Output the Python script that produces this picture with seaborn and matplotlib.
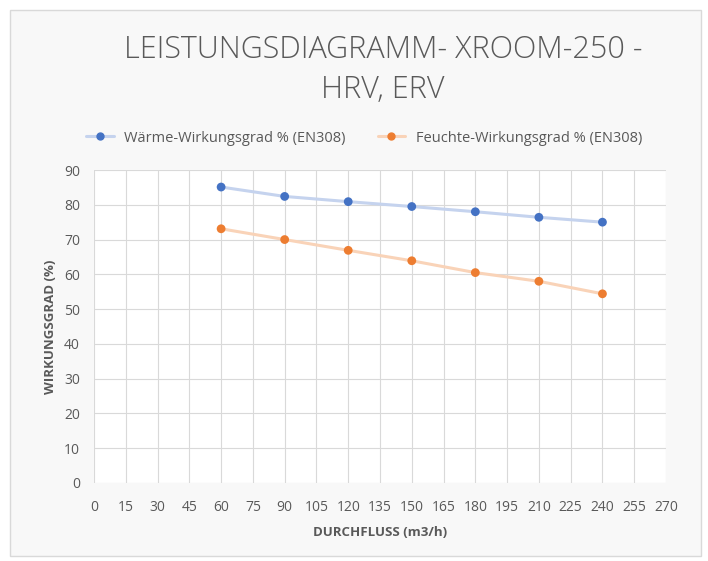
import seaborn as sns
import matplotlib.pyplot as plt
from matplotlib.lines import Line2D
from matplotlib.patches import Rectangle
import pandas as pd

# Daten
durchfluss = [60, 90, 120, 150, 180, 210, 240]
waerme = [85.1, 82.4, 80.9, 79.5, 78.0, 76.4, 75.0]
feuchte = [73.1, 70.0, 66.9, 63.9, 60.5, 58.0, 54.4]
namen = ["Wärme-Wirkungsgrad % (EN308)", "Feuchte-Wirkungsgrad % (EN308)"]
x_ticks = list(range(0, 271, 15))
y_ticks = list(range(0, 91, 10))

df = pd.concat([
    pd.DataFrame({"x": durchfluss, "y": waerme, "serie": namen[0]}),
    pd.DataFrame({"x": durchfluss, "y": feuchte, "serie": namen[1]}),
])

sns.set_style("white")
plt.rcParams['font.family'] = ['Open Sans', 'DejaVu Sans']

grau = "#595959"
blau, blau_hell = "#4472c4", "#c5d3ee"
orange, orange_hell = "#ed7d31", "#f9d3b8"

fig = plt.figure(figsize=(7.08, 5.61), dpi=100)
fig.patch.set_facecolor("white")
# Rahmen des Excel-Diagramms
fig.patches.append(Rectangle((10 / 708, 5 / 561), 691 / 708, 546 / 561,
                             transform=fig.transFigure, facecolor="#f8f8f8",
                             edgecolor="#d9d9d9", linewidth=1, zorder=-5))

ax = fig.add_axes([94 / 708, 78 / 561, 572 / 708, 313 / 561])
ax.set_zorder(2)
ax.set_facecolor("white")

sns.lineplot(data=df, x="x", y="y", hue="serie",
             palette={namen[0]: blau_hell, namen[1]: orange_hell},
             linewidth=2.2, legend=False, ax=ax, zorder=2)
sns.scatterplot(data=df, x="x", y="y", hue="serie",
                palette={namen[0]: blau, namen[1]: orange},
                s=40, edgecolor="none", legend=False, ax=ax, zorder=3)

ax.set_xlim(0, 270)
ax.set_ylim(0, 90)
ax.set_xticks(x_ticks)
ax.set_yticks(y_ticks)
ax.grid(True, color="#d9d9d9", linewidth=0.8)
for s in ax.spines.values():
    s.set_visible(False)
ax.tick_params(axis="x", length=0, labelsize=10, labelcolor=grau, pad=12.5)
ax.tick_params(axis="y", length=0, labelsize=10, labelcolor=grau, pad=10)

ax.set_xlabel("DURCHFLUSS (m3/h)", fontsize=9.5, fontweight="bold", color=grau, labelpad=8)
ax.set_ylabel("WIRKUNGSGRAD (%)", fontsize=9.5, fontweight="bold", color=grau, labelpad=5)

fig.text(383 / 708, 1 - 50 / 561, "LEISTUNGSDIAGRAMM- XROOM-250 -",
         ha="center", va="center", fontsize=22, color=grau, fontweight="light")
fig.text(383 / 708, 1 - 90 / 561, "HRV, ERV",
         ha="center", va="center", fontsize=22, color=grau, fontweight="light")

handles = [
    Line2D([0], [0], color=blau_hell, lw=2.2, marker="o", markersize=5,
           markerfacecolor=blau, markeredgecolor=blau),
    Line2D([0], [0], color=orange_hell, lw=2.2, marker="o", markersize=5,
           markerfacecolor=orange, markeredgecolor=orange),
]
leg = fig.legend(handles, namen, loc="center", bbox_to_anchor=(364 / 708, 1 - 138 / 561),
                 ncol=2, frameon=False, fontsize=10.5, handlelength=1.9,
                 handletextpad=0.7, columnspacing=2.2, labelcolor=grau)

fig.savefig("out.png", dpi=100)
